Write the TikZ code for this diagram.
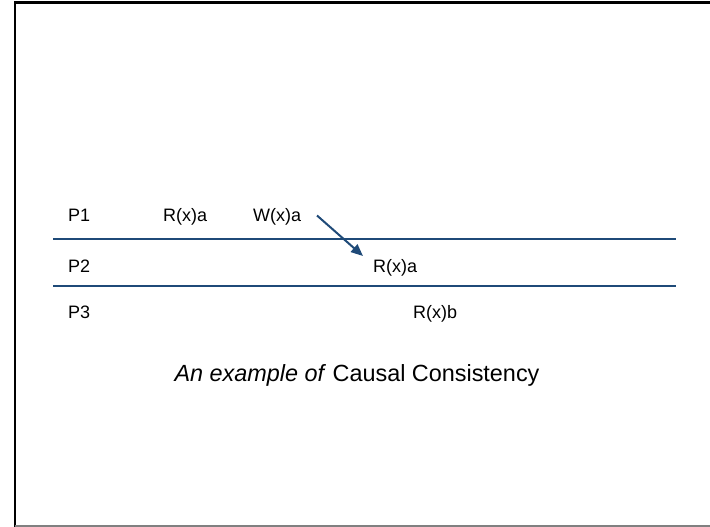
\documentclass[tikz,border=0pt]{standalone}
\usepackage{fontspec}
\setmainfont{Liberation Sans}
\usetikzlibrary{arrows.meta}
\definecolor{lanecol}{HTML}{1F4A78}
\begin{document}
\begin{tikzpicture}[x=1bp,y=-1bp,
  lbl/.style={anchor=base west,inner sep=0pt,font=\fontsize{18bp}{20bp}\selectfont},
  lane/.style={draw=lanecol,line width=2bp},
  msg/.style={draw=lanecol,line width=2bp,-{Triangle[length=12bp,width=10bp]},shorten >=0pt}]
  \useasboundingbox (0,0) rectangle (710,527);
  % slide frame
  \draw[black,line width=2.5bp] (15,527) -- (15,2.5) -- (710,2.5);
  \draw[gray,line width=2bp] (15,526) -- (710,526);
  % process lanes
  \coordinate (l1a) at (53,239.5);
  \coordinate (l1b) at (676,239.5);
  \coordinate (l2a) at (53,286);
  \coordinate (l2b) at (676,286);
  \draw[lane] (l1a) -- (l1b);
  \draw[lane] (l2a) -- (l2b);
  % labels
  \node[lbl] (p1) at (68,222) {P1};
  \node[lbl] (r1) at (163,222) {R(x)a};
  \node[lbl] (w1) at (253,222) {W(x)a};
  \node[lbl] (p2) at (68,273) {P2};
  \node[lbl] (r2) at (373,273) {R(x)a};
  \node[lbl] (p3) at (68,318) {P3};
  \node[lbl] (r3) at (413,318) {R(x)b};
  % causal message
  \coordinate (ms) at (317,215.5);
  \coordinate (me) at (363,256);
  \draw[msg] (ms) -- (me);
  % caption
  \node[anchor=base,inner sep=0pt,font=\fontsize{23.4bp}{26bp}\selectfont] (cap) at (357,381.5)
    {\textit{An example of} Causal Consistency};
\end{tikzpicture}
\end{document}
